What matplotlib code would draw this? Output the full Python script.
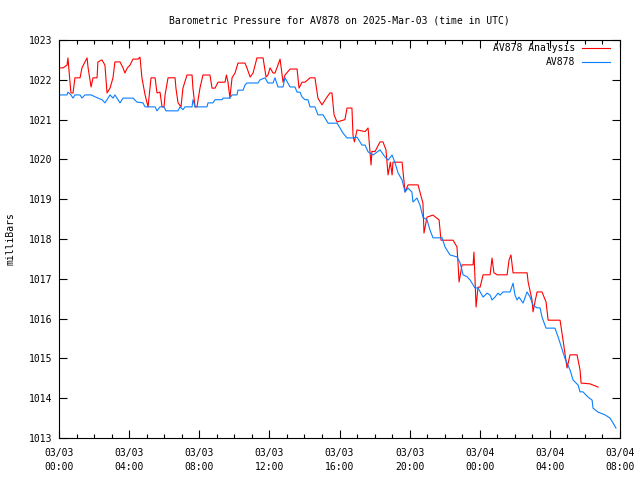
import matplotlib
matplotlib.use("Agg")
import matplotlib.pyplot as plt
from matplotlib.ticker import MultipleLocator

# hours since 2025-03-03 00:00 UTC, pressure in mb
blue_t = [0, 0.46, 0.51, 0.68, 0.80, 0.91, 1.20, 1.31, 1.48, 1.83, 2.22, 2.45, 2.62, 2.74,
          2.91, 3.08, 3.19, 3.31, 3.48, 3.65, 4.22, 4.45, 4.79, 4.91, 5.48, 5.59, 5.76, 5.99,
          6.10, 6.79, 6.90, 7.07, 7.19, 7.59, 7.64, 7.76, 8.44, 8.50, 8.78, 8.90, 9.30, 9.36,
          9.75, 9.87, 10.15, 10.21, 10.50, 10.61, 10.72, 11.35, 11.47, 11.75, 11.92, 12.21,
          12.32, 12.49, 12.78, 12.89, 13.18, 13.46, 13.58, 13.75, 13.86, 14.03, 14.20, 14.32,
          14.60, 14.77, 15.06, 15.35, 15.86, 16.03, 16.20, 16.43, 16.77, 17.00, 17.28, 17.46,
          17.63, 17.91, 18.31, 18.60, 18.77, 19.00, 19.17, 19.34, 19.57, 19.74, 19.91, 20.13,
          20.19, 20.42, 20.59, 20.76, 20.99, 21.16, 21.33, 21.85, 22.02, 22.30, 22.70, 22.88,
          23.05, 23.28, 23.45, 23.73, 23.90, 24.19, 24.42, 24.59, 24.70, 24.87, 25.04, 25.16,
          25.33, 25.73, 25.90, 26.01, 26.13, 26.24, 26.47, 26.70, 26.87, 27.04, 27.27, 27.44,
          27.55, 27.78, 28.29, 28.47, 28.69, 28.86, 29.15, 29.32, 29.61, 29.72, 29.89, 30.17,
          30.41, 30.46, 30.75, 31.15, 31.43, 31.60, 31.77]
blue_p = [1021.62, 1021.62, 1021.69, 1021.62, 1021.54, 1021.62, 1021.62, 1021.54, 1021.62,
          1021.62, 1021.54, 1021.50, 1021.42, 1021.50, 1021.62, 1021.54, 1021.62, 1021.54,
          1021.42, 1021.54, 1021.54, 1021.44, 1021.42, 1021.32, 1021.32, 1021.22, 1021.32,
          1021.32, 1021.22, 1021.22, 1021.32, 1021.25, 1021.32, 1021.32, 1021.50, 1021.32,
          1021.32, 1021.42, 1021.42, 1021.50, 1021.50, 1021.54, 1021.54, 1021.62, 1021.62,
          1021.74, 1021.74, 1021.87, 1021.92, 1021.92, 1022.00, 1022.05, 1021.92, 1021.92,
          1022.05, 1021.82, 1021.82, 1022.05, 1021.82, 1021.82, 1021.69, 1021.69, 1021.57,
          1021.50, 1021.50, 1021.32, 1021.32, 1021.12, 1021.12, 1020.91, 1020.91, 1020.79,
          1020.66, 1020.54, 1020.54, 1020.56, 1020.36, 1020.36, 1020.19, 1020.11, 1020.24,
          1020.06, 1019.98, 1020.11, 1019.91, 1019.66, 1019.48, 1019.18, 1019.28, 1019.18,
          1018.93, 1019.03, 1018.85, 1018.55, 1018.48, 1018.23, 1018.03, 1018.03, 1017.80,
          1017.60, 1017.55, 1017.40, 1017.10, 1017.05, 1016.97, 1016.77, 1016.77, 1016.54,
          1016.64, 1016.59, 1016.47, 1016.54, 1016.64, 1016.59, 1016.67, 1016.67, 1016.89,
          1016.59, 1016.47, 1016.54, 1016.39, 1016.67, 1016.54, 1016.34, 1016.27, 1016.27,
          1016.04, 1015.76, 1015.76, 1015.54, 1015.24, 1015.00, 1014.71, 1014.46, 1014.33,
          1014.16, 1014.16, 1014.03, 1013.95, 1013.75, 1013.65, 1013.58, 1013.50, 1013.38,
          1013.25]

red_t = [0, 0.23, 0.46, 0.51, 0.68, 0.80, 0.91, 1.20, 1.31, 1.48, 1.60, 1.66, 1.83, 1.94,
         2.17, 2.22, 2.45, 2.62, 2.74, 2.91, 3.08, 3.19, 3.48, 3.65, 3.76, 3.90, 4.05, 4.22,
         4.51, 4.62, 4.73, 4.91, 5.08, 5.25, 5.48, 5.59, 5.76, 5.88, 5.99, 6.05, 6.22, 6.62,
         6.67, 6.79, 6.96, 7.07, 7.30, 7.59, 7.64, 7.76, 7.87, 8.04, 8.21, 8.61, 8.73, 8.90,
         9.07, 9.47, 9.55, 9.64, 9.75, 9.87, 10.04, 10.21, 10.61, 10.72, 10.90, 11.07, 11.29,
         11.64, 11.81, 11.92, 12.04, 12.21, 12.32, 12.49, 12.61, 12.78, 12.89, 13.18, 13.58,
         13.69, 13.86, 14.03, 14.32, 14.60, 14.77, 15.00, 15.29, 15.46, 15.57, 15.69, 15.86,
         16.31, 16.43, 16.71, 16.77, 16.85, 17.00, 17.46, 17.63, 17.80, 17.85, 18.03, 18.31,
         18.48, 18.65, 18.77, 18.90, 19.00, 19.05, 19.57, 19.74, 19.91, 20.48, 20.76, 20.82,
         20.99, 21.33, 21.68, 21.79, 22.48, 22.70, 22.76, 22.82, 22.99, 23.62, 23.67, 23.79,
         23.90, 24.02, 24.19, 24.59, 24.70, 24.81, 24.99, 25.56, 25.67, 25.78, 25.90, 26.70,
         26.76, 26.98, 27.04, 27.15, 27.27, 27.55, 27.78, 27.90, 28.58, 28.75, 28.98, 29.15,
         29.55, 29.72, 29.78, 30.29, 30.75]
red_p = [1022.30, 1022.30, 1022.37, 1022.55, 1021.67, 1021.67, 1022.05, 1022.05, 1022.30,
         1022.45, 1022.55, 1022.30, 1021.82, 1022.05, 1022.05, 1022.45, 1022.50, 1022.37,
         1021.67, 1021.79, 1022.05, 1022.45, 1022.45, 1022.30, 1022.17, 1022.30, 1022.37,
         1022.52, 1022.52, 1022.57, 1022.05, 1021.62, 1021.32, 1022.05, 1022.05, 1021.67,
         1021.69, 1021.32, 1021.32, 1021.62, 1022.05, 1022.05, 1021.79, 1021.42, 1021.32,
         1021.79, 1022.12, 1022.12, 1021.79, 1021.32, 1021.32, 1021.79, 1022.12, 1022.12,
         1021.79, 1021.79, 1021.94, 1021.94, 1022.12, 1021.94, 1021.54, 1022.05, 1022.17,
         1022.42, 1022.42, 1022.30, 1022.07, 1022.17, 1022.55, 1022.55, 1022.07, 1022.12,
         1022.30, 1022.17, 1022.17, 1022.37, 1022.52, 1021.94, 1022.12, 1022.27, 1022.27,
         1021.79, 1021.94, 1021.94, 1022.05, 1022.05, 1021.54, 1021.37, 1021.57, 1021.67,
         1021.67, 1021.12, 1020.94, 1021.00, 1021.29, 1021.29, 1020.61, 1020.44, 1020.74,
         1020.70, 1020.79, 1019.86, 1020.20, 1020.20, 1020.44, 1020.44, 1020.24, 1019.61,
         1019.93, 1019.61, 1019.93, 1019.93, 1019.18, 1019.36, 1019.36, 1018.90, 1018.15,
         1018.55, 1018.60, 1018.48, 1017.97, 1017.97, 1017.80, 1017.40, 1016.92, 1017.35,
         1017.35, 1017.67, 1016.29, 1016.79, 1016.79, 1017.10, 1017.10, 1017.52, 1017.15,
         1017.10, 1017.10, 1017.47, 1017.60, 1017.15, 1017.15, 1016.92, 1016.47, 1016.17,
         1016.42, 1016.67, 1016.67, 1016.42, 1015.96, 1015.96, 1015.46, 1014.76, 1015.09,
         1015.09, 1014.71, 1014.38, 1014.36, 1014.28]

x_ticks = [0, 4, 8, 12, 16, 20, 24, 28, 32]
x_labels = ["03/03\n00:00", "03/03\n04:00", "03/03\n08:00", "03/03\n12:00", "03/03\n16:00",
            "03/03\n20:00", "03/04\n00:00", "03/04\n04:00", "03/04\n08:00"]
y_ticks = list(range(1013, 1024))

plt.rcParams['font.family'] = ['DejaVu Sans Mono']
plt.rcParams['font.size'] = 7

fig = plt.figure(figsize=(6.4, 4.8), dpi=100)
ax = fig.add_axes([59 / 640, 42 / 480, 561 / 640, 398 / 480])

ax.plot(red_t, red_p, color='#ff0000', lw=0.8, label='AV878 Analysis')
ax.plot(blue_t, blue_p, color='#0a7fff', lw=0.8, label='AV878')

ax.set_xlim(0, 32)
ax.set_ylim(1013, 1023)
ax.set_xticks(x_ticks)
ax.set_xticklabels(x_labels, linespacing=1.5)
ax.set_yticks(y_ticks)
ax.xaxis.set_minor_locator(MultipleLocator(1))
ax.tick_params(which='both', direction='in', top=True, right=True, color='black')
ax.tick_params(which='major', length=6, width=0.8)
ax.tick_params(which='minor', length=3, width=0.8)
ax.tick_params(axis='x', which='major', pad=7)
ax.tick_params(axis='y', which='major', pad=5)
for s in ax.spines.values():
    s.set_linewidth(0.8)

ax.set_ylabel('milliBars')
ax.yaxis.set_label_coords(-0.078, 0.5)
ax.set_title('Barometric Pressure for AV878 on 2025-Mar-03 (time in UTC)', fontsize=7, pad=12)

ax.legend(loc='upper right', bbox_to_anchor=(1 - 10 / 561, 1 - 3 / 398), frameon=False,
          markerfirst=False, handlelength=2.9, borderaxespad=0, borderpad=0,
          labelspacing=0.45, handletextpad=0.7)

fig.savefig('out.png', dpi=100)
